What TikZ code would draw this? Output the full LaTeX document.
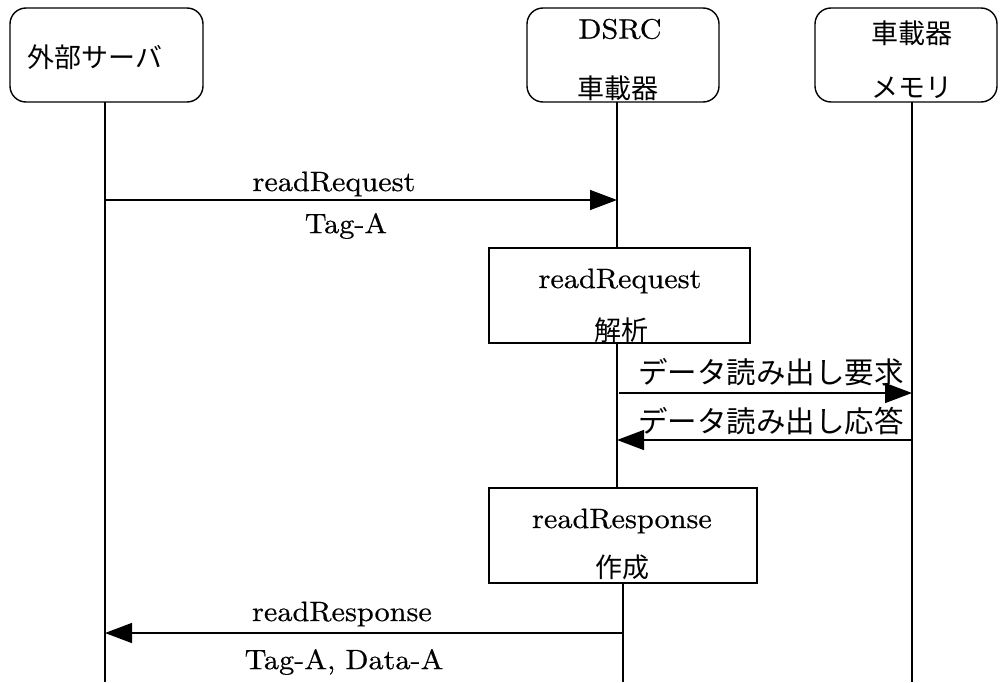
\documentclass[tikz,border=0pt]{standalone}
\usepackage{fontspec}
\setmainfont{lmroman10-regular.otf}[FakeStretch=1.08,FakeBold=0.5]
\newfontfamily\jp{Noto Sans CJK JP}
\usetikzlibrary{arrows.meta}
\begin{document}
\begin{tikzpicture}[x=1pt,y=-1pt,
  line width=1.4pt,
  actor/.style={draw,rounded corners=16pt,inner sep=0pt},
  procbox/.style={draw,inner sep=0pt},
  txt/.style={inner sep=0pt,font=\fontsize{28}{32}\selectfont},
  jtxt/.style={inner sep=0pt,font=\fontsize{27}{30}\selectfont\jp},
  jmsg/.style={inner sep=0pt,font=\fontsize{29.5}{32}\selectfont\jp},
  msg/.style={-{Triangle[length=27pt,width=20pt]}},
  life/.style={line width=1.2pt}]
\useasboundingbox (0,0) rectangle (1000,682);
% actors
\node[actor,minimum width=193pt,minimum height=94pt] (A) at (106.5,55) {};
\node[actor,minimum width=192pt,minimum height=94pt] (B) at (623,55) {};
\node[actor,minimum width=182pt,minimum height=94pt] (C) at (906,55) {};
\node[jtxt] (Alab) at (95,57) {外部サーバ};
\node[txt] (Blab1) at (620,29) {DSRC};
\node[jtxt] (Blab2) at (618,88) {車載器};
\node[jtxt] (Clab1) at (912,33) {車載器};
\node[jtxt] (Clab2) at (912,88) {メモリ};
% process boxes
\node[procbox,minimum width=261pt,minimum height=95pt] (P1) at (619.5,295.5) {};
\node[procbox,minimum width=268pt,minimum height=95pt] (P2) at (623,535.5) {};
\node[txt] (P1a) at (620,281) {readRequest};
\node[jtxt] (P1b) at (621,330) {解析};
\node[txt] (P2a) at (622,521) {readResponse};
\node[jtxt] (P2b) at (622,567) {作成};
% lifeline coordinates
\coordinate (Atop) at (105,102);
\coordinate (Abot) at (105,682);
\coordinate (Btop) at (617,102);
\coordinate (B1) at (617,248);
\coordinate (B2) at (617,343);
\coordinate (B3) at (617,488);
\coordinate (B4) at (623,583);
\coordinate (Bbot) at (623,682);
\coordinate (Ctop) at (912,102);
\coordinate (Cbot) at (912,682);
\draw[life] (Atop) -- (Abot);
\draw[life] (Btop) -- (B1);
\draw[life] (B2) -- (B3);
\draw[life] (B4) -- (Bbot);
\draw[life] (Ctop) -- (Cbot);
% messages
\coordinate (m1s) at (105,200);
\coordinate (m1e) at (617,200);
\coordinate (m2s) at (619,393);
\coordinate (m2e) at (912,393);
\coordinate (m3s) at (912,440);
\coordinate (m3e) at (617,440);
\coordinate (m4s) at (623,633);
\coordinate (m4e) at (105,633);
\draw[msg] (m1s) -- (m1e);
\draw[msg] (m2s) -- (m2e);
\draw[msg] (m3s) -- (m3e);
\draw[msg] (m4s) -- (m4e);
\node[txt] (l1a) at (334,184) {readRequest};
\node[txt] (l1b) at (346,226) {Tag-A};
\node[jmsg] (l2) at (771,372) {データ読み出し要求};
\node[jmsg] (l3) at (771,421) {データ読み出し応答};
\node[txt] (l4a) at (342,614) {readResponse};
\node[txt] (l4b) at (344,662) {Tag-A, Data-A};
\end{tikzpicture}
\end{document}
